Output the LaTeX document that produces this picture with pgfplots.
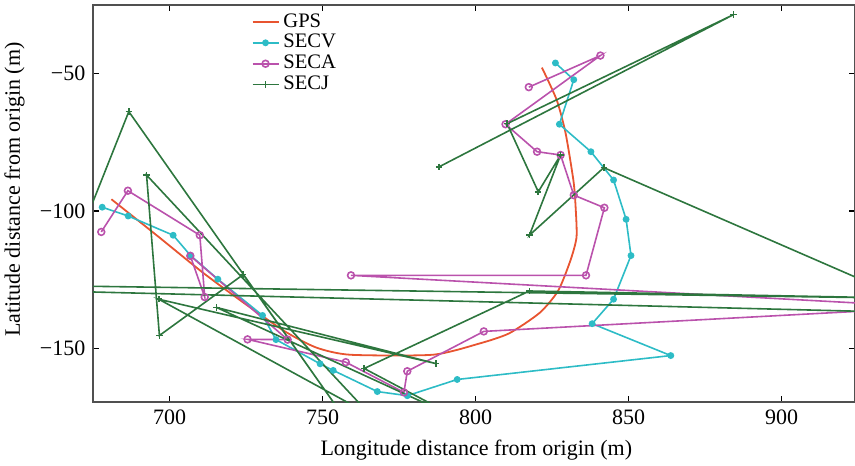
\documentclass[border=0pt]{standalone}
\usepackage{fontspec}
\setmainfont{Liberation Serif}
\usepackage{pgfplots}
\pgfplotsset{compat=1.18}
\definecolor{gpsc}{RGB}{232,84,48}
\definecolor{secv}{RGB}{45,188,198}
\definecolor{seca}{RGB}{186,82,172}
\definecolor{secj}{RGB}{45,118,62}
\definecolor{axc}{RGB}{80,80,80}
\begin{document}
\fontsize{11}{13}\selectfont
\begin{tikzpicture}
\useasboundingbox (-46.5pt,-31.5pt) rectangle (381pt,201pt);
\begin{axis}[
  at={(0,0)}, anchor=south west,
  scale only axis, width=381pt, height=198.5pt,
  xmin=675, xmax=924, ymin=-169.5, ymax=-25,
  xtick={700,750,800,850,900}, xticklabels={700,750,800,850,900},
  ytick={-150,-100,-50}, yticklabels={−150,−100,−50},
  tick align=inside, major tick length=3pt,
  tick style={black, line width=0.7pt},
  axis line style={axc, line width=0.8pt},
  tick label style={font=\fontsize{11}{13}\selectfont},
  label style={font=\fontsize{11}{13}\selectfont},
  xlabel={Longitude distance from origin (m)},
  ylabel={Latitude distance from origin (m)},
  xlabel style={at={(axis description cs:0.503,-0.121)}, anchor=center},
  ylabel style={at={(axis description cs:-0.103,0.535)}, anchor=center},
  legend style={at={(axis description cs:0.205,0.995)}, anchor=north west, draw=none, fill=none,
    font=\fontsize{10.3}{11}\selectfont, row sep=-2pt, inner sep=1pt},
  legend cell align=left,
  legend image code/.code={\draw[mark repeat=2,mark phase=2,#1] plot coordinates {(0pt,0pt) (6.5pt,0pt) (13pt,0pt)};},
]
\addplot[gpsc, line width=0.9pt, smooth, tension=0.4] coordinates {
(681,-95.7) (696,-109) (711,-122.5) (725,-134) (738,-144) (748,-149.7) (759,-152.3)
(786,-152.3) (801,-148.3) (811,-144.5) (821,-137) (827,-129) (831,-118) (833,-109.5)
(832.7,-98.5) (832,-89) (829.4,-71.5) (826.5,-59.5) (821.7,-47.8)};
\addlegendentry{GPS}
\addplot[secv, line width=0.8pt, mark=*, mark size=1.3pt] coordinates {
(678.0,-98.6) (686.5,-101.8) (701.2,-108.8) (706.8,-116.1) (715.8,-124.8) (730.4,-138.0)
(734.8,-146.8) (749.2,-155.6) (753.5,-158.0) (767.9,-165.7) (777.7,-167.2) (794.0,-161.3)
(863.8,-152.6) (838.1,-141.0) (845.1,-132.1) (850.8,-116.2) (849.2,-103.0) (845.1,-88.7)
(837.7,-78.4) (827.4,-68.4) (832.1,-52.2) (826.1,-46.1)};
\addlegendentry{SECV}
\addplot[seca, line width=0.8pt, mark=o, mark size=1.7pt] coordinates {
(677.7,-107.6) (686.4,-92.6) (709.9,-108.8) (711.5,-131.3) (706.8,-116.3) (738.6,-146.8)
(725.5,-146.7) (757.6,-155) (776.6,-166) (777.7,-158.3) (802.7,-143.8) (950,-135)
(759.3,-123.4) (836.1,-123.4) (842.1,-98.8) (832.1,-94.2) (827.8,-79.6) (820.1,-78.4)
(809.8,-68.4) (840.8,-43.4) (817.4,-54.9)};
\addlegendentry{SECA}
\addplot[secj, line width=0.8pt, mark=+, mark size=1.6pt] coordinates {
(674.5,-98) (686.7,-63.8) (757.8,-176.3) (724.1,-123.1) (696.7,-145.3) (692.5,-86.9) (765.5,-174.1)
(696.5,-132.1) (787,-155.5) (715.4,-135.1) (795.9,-176.3) (763.6,-157.3) (817.6,-129.1)
(945,-131.8) (498,-124.5) (951.3,-137.2) (841.9,-84.2) (817.6,-108.8) (827.8,-79.6)
(820.5,-93) (810.3,-68.2) (884.3,-28.5) (788.1,-83.9)};
\addlegendentry{SECJ}
\end{axis}
\end{tikzpicture}
\end{document}
